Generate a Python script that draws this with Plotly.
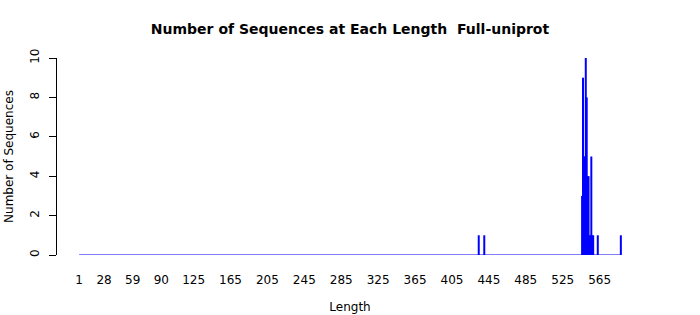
import plotly.graph_objects as go

# Data
lengths = [434, 440, 546, 547, 548, 549, 550, 551, 552, 553, 554, 555, 556, 557, 558, 563, 588]
counts  = [1,   1,   3,   9,   5,   5,   10,  8,   4,   4,   1,   1,   5,   1,   1,   1,   1]
length_min = 1
length_max = 588
tick_labels = [1, 28, 59, 90, 125, 165, 205, 245, 285, 325, 365, 405, 445, 485, 525, 565]
y_ticks = [0, 2, 4, 6, 8, 10]

# vertical "h" style segments
xs, ys = [], []
for L, c in zip(lengths, counts):
    xs += [L, L, None]
    ys += [0, c, None]

fig = go.Figure()
# zero-height baseline for all lengths
fig.add_trace(go.Scatter(x=[length_min, length_max], y=[0, 0], mode="lines",
                         line=dict(color="#0000ff", width=1), hoverinfo="skip", showlegend=False))
fig.add_trace(go.Scatter(x=xs, y=ys, mode="lines",
                         line=dict(color="#0000ff", width=2), showlegend=False))

font = "DejaVu Sans, Liberation Sans, sans-serif"
fig.update_layout(
    width=700, height=315,
    margin=dict(l=57, r=57, t=58, b=60),
    paper_bgcolor="white", plot_bgcolor="white",
    font=dict(family=font, size=12, color="black"),
    title=dict(text="<b>Number of Sequences at Each Length  Full-uniprot</b>",
               x=0.5, xanchor="center", y=1 - 29 / 315, yanchor="middle",
               font=dict(size=14, family=font, color="black")),
    showlegend=False,
)
fig.update_xaxes(
    range=[-23, 612], showgrid=False, zeroline=False, showline=False, automargin=False,
    tickmode="array", tickvals=tick_labels, ticktext=[str(t) for t in tick_labels],
    ticks="outside", ticklen=14, tickcolor="rgba(0,0,0,0)",
    tickfont=dict(size=12),
    title=dict(text="Length", standoff=16, font=dict(size=12)),
)
fig.update_yaxes(
    range=[0, 10], showgrid=False, zeroline=False, automargin=False,
    showline=True, linecolor="black", linewidth=1,
    tickmode="array", tickvals=y_ticks, ticks="outside", ticklen=7,
    tickcolor="black", tickwidth=1, tickangle=-90, ticklabelstandoff=5,
    tickfont=dict(size=12),
    title=dict(text="Number of Sequences", standoff=12, font=dict(size=12)),
)

fig.write_html("out.html")
